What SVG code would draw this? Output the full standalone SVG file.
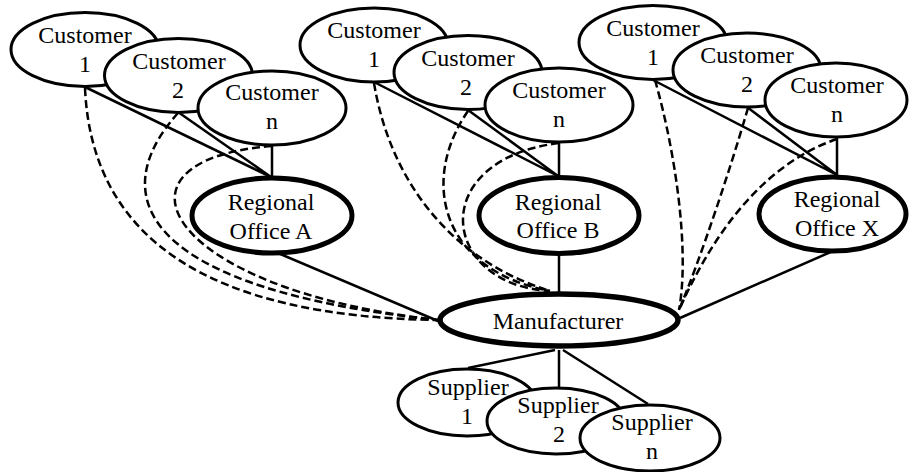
<svg xmlns="http://www.w3.org/2000/svg" width="910" height="472" viewBox="0 0 910 472">
<style>
text{font-family:"Liberation Serif","Times New Roman",serif;font-size:24px;fill:#000;text-anchor:middle}
.c{fill:#fff;stroke:#000;stroke-width:3}
.r{fill:#fff;stroke:#000;stroke-width:5}
.m{fill:#fff;stroke:#000;stroke-width:5.5}
.s{fill:none;stroke:#000;stroke-width:2.5}
.d{fill:none;stroke:#000;stroke-width:2.5;stroke-dasharray:8 4}
</style>
<rect width="910" height="472" fill="#fff"/>
<g id="connectors">
<path class="s" d="M85,87L271,177M178,112L271,177M272,145L272,177"/>
<path class="s" d="M374,82L558,176M468,110L558,176M559,142L559,176"/>
<path class="s" d="M653,80L837,175M747,107L837,175M837,137L837,175"/>
<path class="s" d="M278,253L438,321M559,253L559,293M833,251L680,318"/>
<path class="s" d="M555,350L468,368M559,350L559,387M563,350L648,404"/>
<path class="d" d="M85,88Q95,315 438,320"/>
<path class="d" d="M178,113C100,200 150,290 438,320"/>
<path class="d" d="M272,146C95,160 165,290 438,320"/>
<path class="d" d="M374,83C390,180 450,260 550,291"/>
<path class="d" d="M468,111C420,180 440,270 550,291"/>
<path class="d" d="M559,143C425,160 440,285 550,291"/>
<path class="d" d="M655,80C675,150 690,250 679,310"/>
<path class="d" d="M748,108C730,170 700,260 679,310"/>
<path class="d" d="M837,139C760,165 710,240 679,310"/>
</g>
<g id="custA1"><ellipse class="c" cx="85" cy="49.5" rx="74" ry="37"/><text x="85" y="43">Customer</text><text x="85" y="72">1</text></g>
<g id="custA2"><ellipse class="c" cx="178.5" cy="75.5" rx="74" ry="37"/><text x="179" y="69">Customer</text><text x="178" y="98">2</text></g>
<g id="custAn"><ellipse class="c" cx="272" cy="108" rx="74" ry="37"/><text x="272" y="100">Customer</text><text x="272" y="129">n</text></g>
<g id="custB1"><ellipse class="c" cx="374" cy="45" rx="74" ry="37"/><text x="374" y="38">Customer</text><text x="374" y="67">1</text></g>
<g id="custB2"><ellipse class="c" cx="468" cy="72.5" rx="74" ry="37"/><text x="468" y="66">Customer</text><text x="466" y="95">2</text></g>
<g id="custBn"><ellipse class="c" cx="559" cy="105" rx="74" ry="37"/><text x="559" y="98">Customer</text><text x="559" y="127">n</text></g>
<g id="custX1"><ellipse class="c" cx="653" cy="42.5" rx="74" ry="37"/><text x="653" y="36">Customer</text><text x="653" y="65">1</text></g>
<g id="custX2"><ellipse class="c" cx="747" cy="70" rx="74" ry="37"/><text x="747" y="63">Customer</text><text x="747" y="92">2</text></g>
<g id="custXn"><ellipse class="c" cx="836" cy="100" rx="71" ry="37"/><text x="837" y="93">Customer</text><text x="837" y="122">n</text></g>
<g id="officeA"><ellipse class="r" cx="272" cy="215.5" rx="80" ry="37.5"/><text x="271" y="210">Regional</text><text x="271" y="239">Office A</text></g>
<g id="officeB"><ellipse class="r" cx="559" cy="215.5" rx="80" ry="38"/><text x="558" y="210">Regional</text><text x="558" y="238">Office B</text></g>
<g id="officeX"><ellipse class="r" cx="832.5" cy="214" rx="73.5" ry="37"/><text x="837" y="207">Regional</text><text x="837" y="236">Office X</text></g>
<g id="manufacturer"><ellipse class="m" cx="559" cy="320" rx="119" ry="26"/><text x="558" y="329">Manufacturer</text></g>
<g id="supplier1"><ellipse class="c" cx="467" cy="402.5" rx="69" ry="33.5"/><text x="468" y="395">Supplier</text><text x="467" y="424">1</text></g>
<g id="supplier2"><ellipse class="c" cx="556" cy="421" rx="69" ry="33"/><text x="558" y="413">Supplier</text><text x="559" y="442">2</text></g>
<g id="suppliern"><ellipse class="c" cx="650" cy="438" rx="70" ry="33"/><text x="652" y="430">Supplier</text><text x="652" y="459">n</text></g>
</svg>
